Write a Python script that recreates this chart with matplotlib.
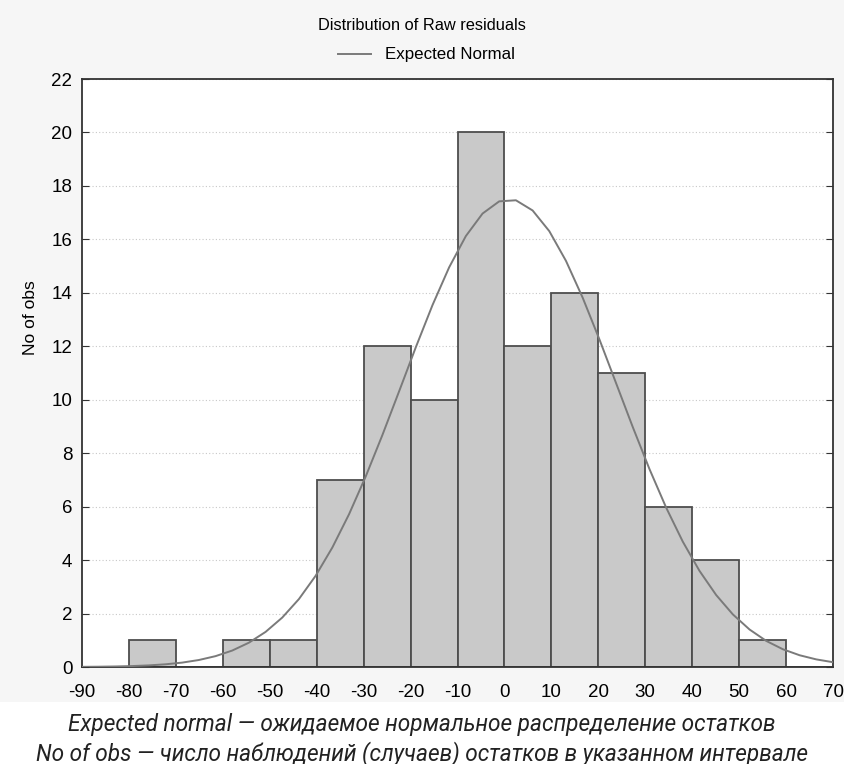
import numpy as np
import matplotlib.pyplot as plt
from matplotlib.patches import Rectangle

# histogram of raw residuals (bin edges and counts)
bin_edges = [-90, -80, -70, -60, -50, -40, -30, -20, -10, 0, 10, 20, 30, 40, 50, 60, 70]
counts = [0, 1, 0, 1, 1, 7, 12, 10, 20, 12, 14, 11, 6, 4, 1, 0]

# expected normal curve parameters
n_obs = 100
mean_res = 1.0
sd_res = 22.8
bin_width = 10

xticks = list(range(-90, 71, 10))
yticks = list(range(0, 23, 2))

plt.rcParams['font.family'] = ['Liberation Sans', 'DejaVu Sans']
plt.rcParams['axes.unicode_minus'] = False

fig = plt.figure(figsize=(8.44, 7.64), dpi=100)
fig.patch.set_facecolor('white')
# light grey panel behind the chart
fig.patches.append(Rectangle((0, (764 - 702) / 764), 1, 702 / 764, transform=fig.transFigure,
                             facecolor='#f6f6f6', edgecolor='none', zorder=-10))

ax = fig.add_axes([82 / 844, (764 - 667) / 764, (833 - 82) / 844, (667 - 79) / 764])
ax.set_facecolor('white')

lefts = bin_edges[:-1]
ax.bar(lefts, counts, width=bin_width, align='edge', color='#c9c9c9',
       edgecolor='#4d4d4d', linewidth=1.3, zorder=2)

xs = np.linspace(-90, 70, 46)
ys = n_obs * bin_width / (sd_res * np.sqrt(2 * np.pi)) * np.exp(-0.5 * ((xs - mean_res) / sd_res) ** 2)
line, = ax.plot(xs, ys, color='#7a7a7a', linewidth=1.4, zorder=3)

ax.set_xlim(-90, 70)
ax.set_ylim(0, 22)
ax.set_xticks(xticks)
ax.set_yticks(yticks)
ax.tick_params(direction='in', length=5, labelsize=13.5, color='#333333',
               right=True, top=False)
ax.tick_params(axis='x', length=0, pad=12)
ax.tick_params(axis='y', pad=7)
ax.yaxis.grid(True, linestyle=(0, (1, 2)), color='#c8c8c8', linewidth=0.8, zorder=0)
ax.set_axisbelow(True)
for s in ax.spines.values():
    s.set_color('#333333')
    s.set_linewidth(1.3)

ax.set_ylabel('No of obs', fontsize=12.5)
ax.yaxis.set_label_coords((38 - 82) / 751, (667 - 318) / 588)

fig.text(0.5, 1 - 25 / 764, 'Distribution of Raw residuals', ha='center', va='center', fontsize=11.8)
ax.legend([line], ['Expected Normal'], loc='center', bbox_to_anchor=(0.505, 1 - 55 / 764),
          bbox_transform=fig.transFigure, frameon=False, fontsize=12.2,
          handlelength=2.0, handletextpad=0.8)

cap_font = ['Roboto', 'DejaVu Sans']
fig.text(0.5, 1 - 731 / 764, 'Expected normal \u2014 \u043e\u0436\u0438\u0434\u0430\u0435\u043c\u043e\u0435 \u043d\u043e\u0440\u043c\u0430\u043b\u044c\u043d\u043e\u0435 \u0440\u0430\u0441\u043f\u0440\u0435\u0434\u0435\u043b\u0435\u043d\u0438\u0435 \u043e\u0441\u0442\u0430\u0442\u043a\u043e\u0432',
         ha='center', va='baseline', fontsize=16.3, style='italic', family=cap_font, color='#222222')
fig.text(0.5, 1 - 760 / 764, 'No of obs \u2014 \u0447\u0438\u0441\u043b\u043e \u043d\u0430\u0431\u043b\u044e\u0434\u0435\u043d\u0438\u0439 (\u0441\u043b\u0443\u0447\u0430\u0435\u0432) \u043e\u0441\u0442\u0430\u0442\u043a\u043e\u0432 \u0432 \u0443\u043a\u0430\u0437\u0430\u043d\u043d\u043e\u043c \u0438\u043d\u0442\u0435\u0440\u0432\u0430\u043b\u0435',
         ha='center', va='baseline', fontsize=16.3, style='italic', family=cap_font, color='#222222')

fig.savefig('out.png', dpi=100)
